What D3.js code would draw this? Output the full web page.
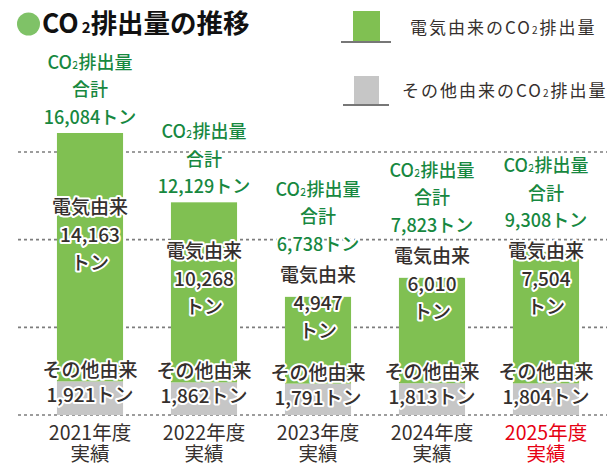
<!DOCTYPE html>
<html>
<head>
<meta charset="utf-8">
<script src="https://cdn.jsdelivr.net/npm/d3@7"></script>
<style>
  body { margin: 0; background: #fff; }
  svg text { font-family: "Noto Sans CJK JP", "Noto Sans", sans-serif; }
  .halo { paint-order: stroke; stroke: #fff; stroke-width: 4px; stroke-linejoin: round; font-weight: 500; }
  .axis-label { font-weight: 400; }
</style>
</head>
<body>
<div id="chart"></div>
<script>
const years = ["2021", "2022", "2023", "2024", "2025"];
const elecValues = [14163, 10268, 4947, 6010, 7504];
const otherValues = [1921, 1862, 1791, 1813, 1804];
const totalValues = [16084, 12129, 6738, 7823, 9308];
const yearLabels = ["2021年度", "2022年度", "2023年度", "2024年度", "2025年度"];
const gridTicks = [0, 5000, 10000, 15000];

const width = 607, height = 467;
const green = "#80c052", grey = "#c6c6c6", textGreen = "#17883f", dark = "#352f2d";

const data = years.map((y, i) => ({ year: y, other: otherValues[i], elec: elecValues[i], total: totalValues[i], label: yearLabels[i] }));

const svg = d3.select("#chart")
    .append("svg")
    .attr("width", width)
    .attr("height", height);

const x = d3.scaleBand()
    .domain(years)
    .range([33, 603])
    .paddingInner(0.42)
    .paddingOuter(0.21);

const y = d3.scaleLinear()
    .domain([0, 15000])
    .range([415, 152]);

// dotted grid lines
svg.append("g")
    .selectAll("line")
    .data(gridTicks)
    .join("line")
    .attr("x1", 18)
    .attr("x2", width)
    .attr("y1", d => y(d))
    .attr("y2", d => y(d))
    .attr("stroke", "#7d7d7d")
    .attr("stroke-width", 1.6)
    .attr("stroke-dasharray", "3,3");

// stacked bars
const stack = d3.stack().keys(["other", "elec"])(data);
const color = d3.scaleOrdinal().domain(["other", "elec"]).range([grey, green]);

svg.append("g")
    .selectAll("g")
    .data(stack)
    .join("g")
    .attr("fill", d => color(d.key))
    .selectAll("rect")
    .data(d => d)
    .join("rect")
    .attr("x", d => x(d.data.year))
    .attr("y", d => y(d[1]))
    .attr("width", x.bandwidth())
    .attr("height", d => y(d[0]) - y(d[1]));

// text helper: each line is a list of [text, small?]
function addText(g, lines, cx, yFirst, lh, opts) {
    const t = g.append("text")
        .attr("class", "halo")
        .attr("text-anchor", "middle")
        .attr("fill", opts.fill)
        .style("font-size", opts.size + "px");
    lines.forEach((line, i) => {
        line.forEach((seg, j) => {
            const ts = t.append("tspan").text(seg[0]);
            if (j === 0) ts.attr("x", cx).attr("y", yFirst + i * lh);
            if (seg[1]) ts.style("font-size", Math.round(opts.size * 0.6) + "px");
        });
    });
    return t;
}

const labels = svg.append("g");
data.forEach(d => {
    const cx = x(d.year) + x.bandwidth() / 2;
    const barTop = y(d.total);
    const greyTop = y(d.other);
    // electricity label sits inside the bar when it fits, otherwise on a shared line
    const elecFirst = Math.min(barTop + 81, Math.max(258, barTop - 15));
    const totalLast = Math.min(barTop - 9, elecFirst - 31);

    addText(labels, [
        [["CO"], ["2", true], ["排出量"]],
        [["合計"]],
        [[d3.format(",")(d.total) + "トン"]]
    ], cx, totalLast - 55, 27.5, { fill: textGreen, size: 18 });

    addText(labels, [
        [["電気由来"]],
        [[d3.format(",")(d.elec)]],
        [["トン"]]
    ], cx, elecFirst, 28, { fill: dark, size: 19 });

    addText(labels, [
        [["その他由来"]],
        [[d3.format(",")(d.other) + "トン"]]
    ], cx, greyTop - 4, 25, { fill: dark, size: 19 });

    const axisFill = d.year === "2025" ? "#e60012" : dark;
    addText(labels, [
        [[d.label]],
        [["実績"]]
    ], cx, 440, 21, { fill: axisFill, size: 19.5 })
        .classed("axis-label", true);
});

// title
svg.append("circle")
    .attr("cx", 28.5)
    .attr("cy", 24)
    .attr("r", 11.5)
    .attr("fill", "#7fc267");

const title = svg.append("text")
    .attr("x", 42)
    .attr("y", 33)
    .attr("fill", "#111")
    .style("font-size", "26.5px")
    .style("font-weight", "bold");
title.append("tspan").text("CO");
title.append("tspan").attr("dx", 3).style("font-size", "15px").text("2");
title.append("tspan").text("排出量の推移");

// legend
const legendItems = [
    { fill: green, text: "電気由来の", rx: 353, rw: 27, ry: 11, rh: 30, lx1: 341, lx2: 391, tx: 410, ty: 34 },
    { fill: grey, text: "その他由来の", rx: 354, rw: 25, ry: 76, rh: 28, lx1: 343, lx2: 389, tx: 402, ty: 97 }
];
const legend = svg.append("g");
legendItems.forEach(it => {
    legend.append("rect")
        .attr("x", it.rx).attr("y", it.ry)
        .attr("width", it.rw).attr("height", it.rh)
        .attr("fill", it.fill);
    legend.append("line")
        .attr("x1", it.lx1).attr("x2", it.lx2)
        .attr("y1", it.ry + it.rh + 1).attr("y2", it.ry + it.rh + 1)
        .attr("stroke", "#777")
        .attr("stroke-width", 2);
    const t = legend.append("text")
        .attr("x", it.tx).attr("y", it.ty)
        .attr("fill", dark)
        .style("font-size", "17px")
        .style("letter-spacing", "2px");
    t.append("tspan").text(it.text + "CO");
    t.append("tspan").style("font-size", "10px").text("2");
    t.append("tspan").text("排出量");
});
</script>
</body>
</html>
